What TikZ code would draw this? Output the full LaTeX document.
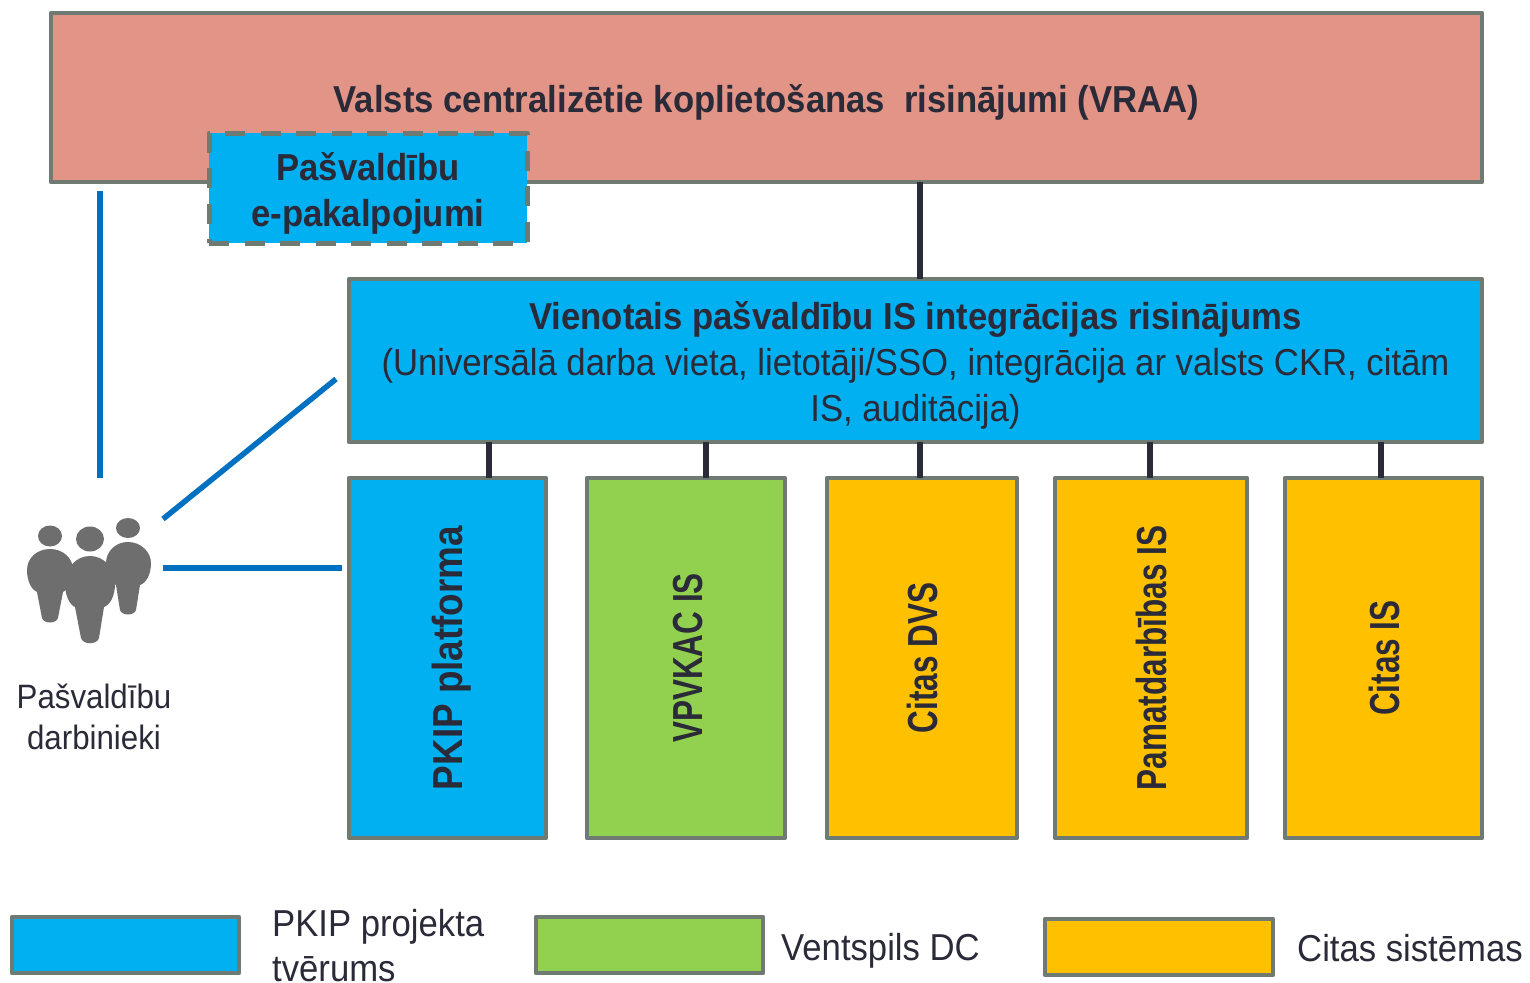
\documentclass[tikz,border=0pt]{standalone}
\usepackage{fontspec}
\setmainfont[FakeStretch=0.925]{Liberation Sans}
\newfontfamily\pkipfont[FakeStretch=0.877]{Liberation Sans}
\newfontfamily\narrowfont[FakeStretch=0.75]{Liberation Sans}
\definecolor{edgegray}{HTML}{6F7A72}
\definecolor{pkipblue}{HTML}{00B0F0}
\definecolor{vraapink}{HTML}{E29587}
\definecolor{dcgreen}{HTML}{92D050}
\definecolor{otherorange}{HTML}{FFC000}
\definecolor{linkblue}{HTML}{0070C0}
\definecolor{darktext}{HTML}{2A2A38}
\definecolor{peoplegray}{HTML}{6E6E6E}
\newcommand{\nudged}[1]{\raisebox{-6pt}[\height][\depth]{\begin{tabular}{@{}c@{}}#1\end{tabular}}}
\newcommand{\upright}[3]{\hspace*{#1}\rotatebox{90}{\bfseries#2\fontsize{42}{46}\selectfont #3}}
\tikzset{
  box/.style={draw=edgegray,line width=4.5pt,inner sep=0pt,outer sep=0pt,align=center,text=darktext,
    font=\fontsize{37.5}{46}\selectfont,line join=round},
  bluebox/.style={box,fill=pkipblue},
  greenbox/.style={box,fill=dcgreen},
  orangebox/.style={box,fill=otherorange},
  legendtext/.style={anchor=west,inner sep=0pt,align=left,text=darktext,font=\fontsize{37.5}{45}\selectfont},
  bus/.style={draw=darktext,line width=6pt},
  userlink/.style={draw=linkblue,line width=5.5pt},
  person/.style={fill=peoplegray,draw=none}
}
\begin{document}
\begin{tikzpicture}[x=1pt,y=-1pt]
\useasboundingbox (0,0) rectangle (1530,982);
% main boxes
\node[box,fill=vraapink,minimum width=1431pt,minimum height=169pt] (vraa) at (766.5,97.5)
  {\nudged{\bfseries Valsts centralizētie koplietošanas\ \ risinājumi (VRAA)}};
\node[bluebox,minimum width=1133pt,minimum height=163pt] (vien) at (915.5,360.5)
  {\nudged{\bfseries Vienotais pašvaldību IS integrācijas risinājums\\
   (Universālā darba vieta, lietotāji/SSO, integrācija ar valsts CKR, citām\\
   IS, auditācija)}};
\node[bluebox,minimum width=318pt,minimum height=110pt,line width=5pt,dash pattern=on 20pt off 15.5pt] (epak) at (368,188)
  {\nudged{\bfseries Pašvaldību\\\bfseries e-pakalpojumi}};
\node[bluebox,minimum width=197pt,minimum height=360pt] (pkip) at (447.5,658)
  {\upright{8pt}{\pkipfont}{PKIP platforma}};
\node[greenbox,minimum width=198pt,minimum height=360pt] (vpvkac) at (686,658)
  {\upright{4pt}{\narrowfont}{VPVKAC IS}};
\node[orangebox,minimum width=190pt,minimum height=360pt] (dvs) at (922,658)
  {\upright{0pt}{\narrowfont}{Citas DVS}};
\node[orangebox,minimum width=192pt,minimum height=360pt] (pamat) at (1151,658)
  {\upright{0pt}{\narrowfont}{Pamatdarbības IS}};
\node[orangebox,minimum width=197pt,minimum height=360pt] (citis) at (1383.5,658)
  {\upright{2pt}{\narrowfont}{Citas IS}};
% bus connectors
\coordinate (xa) at (920,230);
\coordinate (xb) at (489,460);
\coordinate (xc) at (705.5,460);
\coordinate (xd) at (920,460);
\coordinate (xe) at (1150,460);
\coordinate (xf) at (1381,460);
\draw[bus] (xa |- vraa.south) -- (xa |- vien.north);
\draw[bus] (xb |- vien.south) -- (xb |- pkip.north);
\draw[bus] (xc |- vien.south) -- (xc |- vpvkac.north);
\draw[bus] (xd |- vien.south) -- (xd |- dvs.north);
\draw[bus] (xe |- vien.south) -- (xe |- pamat.north);
\draw[bus] (xf |- vien.south) -- (xf |- citis.north);
% people
\fill[person] (50,536) ellipse [x radius=12,y radius=10.5];
\fill[person] (90,539) ellipse [x radius=14,y radius=12.5];
\fill[person] (128,528) ellipse [x radius=12,y radius=10];
\fill[person] (50,549) .. controls (63,549) and (73,558) .. (73,570) .. controls (73,582) and (68,590) .. (63,592) -- (58,618) .. controls (56,624) and (44,624) .. (42,618) -- (37,592) .. controls (32,590) and (27,582) .. (27,570) .. controls (27,558) and (37,549) .. (50,549) -- cycle;
\fill[person] (128,542) .. controls (141,542) and (151,552) .. (151,563) .. controls (151,575) and (146,583) .. (140,585) -- (136,610) .. controls (134,616) and (122,616) .. (120,610) -- (116,585) .. controls (110,583) and (106,575) .. (106,563) .. controls (106,552) and (115,542) .. (128,542) -- cycle;
\fill[person] (90,556) .. controls (104,556) and (115,568) .. (115,584) .. controls (115,596) and (110,605) .. (104,607) -- (99,638) .. controls (97,645) and (83,645) .. (81,638) -- (75,607) .. controls (70,605) and (65,596) .. (65,584) .. controls (65,568) and (76,556) .. (90,556) -- cycle;
\node[inner sep=0pt,align=center,text=darktext,font=\fontsize{33.8}{41}\selectfont] (staff) at (94,717) {Pašvaldību\\darbinieki};
% user links
\coordinate (la) at (100,191);
\coordinate (lb) at (100,478);
\coordinate (lc) at (163,519);
\coordinate (ld) at (336,379);
\coordinate (le) at (163,568);
\coordinate (lf) at (342,568);
\draw[userlink] (la) -- (lb);
\draw[userlink] (lc) -- (ld);
\draw[userlink] (le) -- (lf);
% legend
\node[bluebox,minimum width=227pt,minimum height=56pt] (kblue) at (125.5,945) {};
\node[greenbox,minimum width=227pt,minimum height=56pt] (kgreen) at (649.5,945) {};
\node[orangebox,minimum width=228pt,minimum height=56pt] (korange) at (1159,947) {};
\node[legendtext] (tblue) at (272,945.5) {PKIP projekta\\tvērums};
\node[legendtext] (tgreen) at (781,951) {Ventspils DC};
\node[legendtext] (torange) at (1297,948) {Citas sistēmas};
\end{tikzpicture}
\end{document}
